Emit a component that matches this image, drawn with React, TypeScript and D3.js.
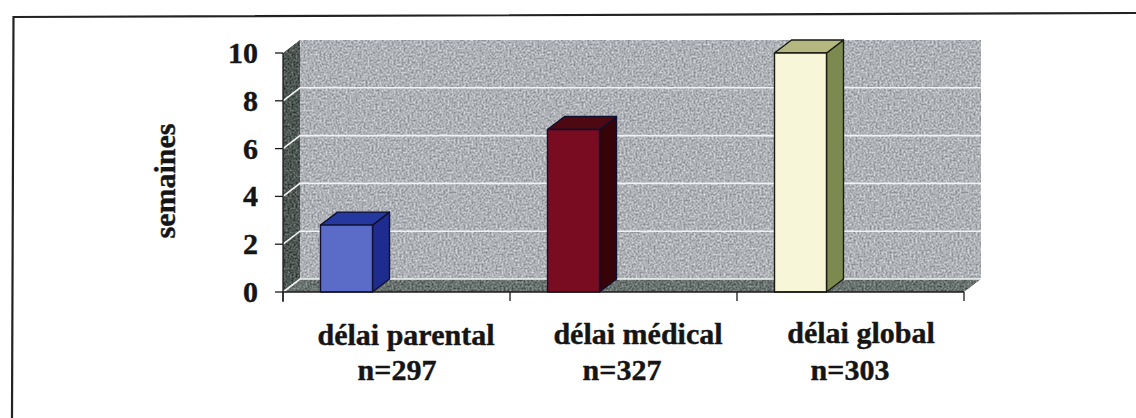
import React from "react";
import * as d3 from "d3";

const categories = ["délai parental", "délai médical", "délai global"];
const sampleLabels = ["n=297", "n=327", "n=303"];
const values = [2.8, 6.8, 10];
const yTicks = [0, 2, 4, 6, 8, 10];
const frontColors = ["#5a6cc8", "#7a0c22", "#f8f6d8"];
const topColors = ["#2438a0", "#4e0812", "#b4b880"];
const sideColors = ["#1e2c90", "#360408", "#7c8a50"];

const W = 1136, H = 418;
const x = d3.scaleBand<number>().domain([0, 1, 2]).range([283, 964]);
const y = d3.scaleLinear().domain([0, 10]).range([292, 53]);
const dx = 17, dy = -13;
const barW = 52;
const barInset = 37.5;
const font = "'Liberation Serif', 'Times New Roman', serif";

const poly = (pts: [number, number][]) => d3.line()(pts) + "Z";

export default function App() {
  const x0 = x.range()[0], x1 = x.range()[1];
  const y0 = y(0), yT = y(10);
  const textProps = { fontWeight: "bold", fill: "#151515", stroke: "#151515", strokeWidth: 0.4 };
  return (
    <svg width={W} height={H} style={{ position: "absolute", left: 0, top: 0, background: "#fff" }} fontFamily={font}>
      <defs>
        <filter id="grain" x="0" y="0" width="100%" height="100%" colorInterpolationFilters="sRGB">
          <feTurbulence type="fractalNoise" baseFrequency="0.5" numOctaves="2" seed="4" result="n" />
          <feColorMatrix in="n" type="matrix" values="1 0 0 0 0  1 0 0 0 0  1 0 0 0 0  0 0 0 0 1" result="g" />
          <feGaussianBlur in="g" stdDeviation="0.6" result="b" />
          <feComposite in="SourceGraphic" in2="b" operator="arithmetic" k1="0" k2="1" k3="0.55" k4="-0.275" result="c" />
          <feComposite in="c" in2="SourceGraphic" operator="in" />
        </filter>
      </defs>
      <path d="M12,418 L13.5,17 L1136,13" fill="none" stroke="#222" strokeWidth={2.2} />
      <path d={poly([[x0 + dx, yT + dy], [x1 + dx, yT + dy], [x1 + dx, y0 + dy], [x0 + dx, y0 + dy]])} fill="#aeb2b6" filter="url(#grain)" />
      <path d={poly([[x0, yT], [x0 + dx, yT + dy], [x0 + dx, y0 + dy], [x0, y0]])} fill="#4e5654" filter="url(#grain)" />
      <path d={poly([[x0, y0], [x0 + dx, y0 + dy], [x1 + dx, y0 + dy], [x1, y0]])} fill="#6a7270" filter="url(#grain)" />
      {yTicks.map((t) => (
        <path key={t} d={`M${x0},${y(t)}L${x0 + dx},${y(t) + dy}L${x1 + dx},${y(t) + dy}`} fill="none" stroke="#f2f2f2" strokeWidth={1.6} opacity={t === 10 ? 0 : 1} />
      ))}
      {values.map((v, i) => {
        const l = (x(i) as number) + barInset;
        const r = l + barW;
        const t = y(v);
        const stroke = i === 2 ? "#1a1a10" : "#101030";
        return (
          <g key={i} stroke={stroke} strokeWidth={1.4} strokeLinejoin="round">
            <path d={poly([[r, t], [r + dx, t + dy], [r + dx, y0 + dy], [r, y0]])} fill={sideColors[i]} />
            <path d={poly([[l, t], [l + dx, t + dy], [r + dx, t + dy], [r, t]])} fill={topColors[i]} />
            <rect x={l} y={t} width={r - l} height={y0 - t} fill={frontColors[i]} />
          </g>
        );
      })}
      <g stroke="#1a1a1a" strokeWidth={1.3}>
        <line x1={x0} x2={x0} y1={yT} y2={y0 + 10} />
        <line x1={x0} x2={x1} y1={y0} y2={y0} />
        {yTicks.map((t) => <line key={t} x1={x0 - 8} x2={x0} y1={y(t)} y2={y(t)} />)}
        {[0, 1, 2, 3].map((i) => {
          const tx = i < 3 ? (x(i) as number) : x1;
          return <line key={i} x1={tx} x2={tx} y1={y0} y2={y0 + 9} />;
        })}
      </g>
      {yTicks.map((t) => (
        <text key={t} x={258} y={y(t) + 10} textAnchor="end" fontSize={30} {...textProps}>{t}</text>
      ))}
      <text transform="translate(175,181) rotate(-90)" textAnchor="middle" fontSize={30} {...textProps}>semaines</text>
      {categories.map((c, i) => (
        <g key={c} textAnchor="middle" fontSize={30} {...textProps}>
          <text x={[406, 638, 861][i]} y={[345, 344, 343][i]}>{c}</text>
          <text x={[397, 622, 850][i]} y={[380, 380, 380][i]}>{sampleLabels[i]}</text>
        </g>
      ))}
    </svg>
  );
}
